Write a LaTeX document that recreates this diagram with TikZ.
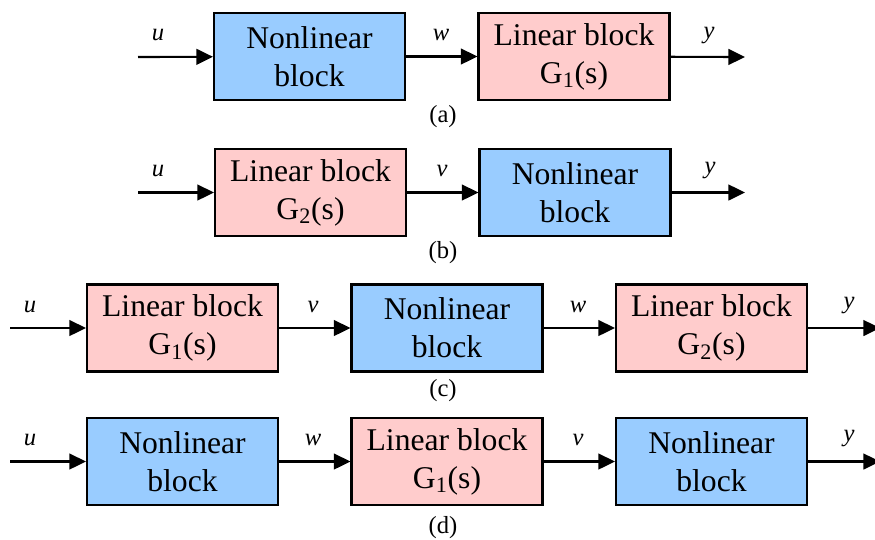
\documentclass[tikz,border=0pt]{standalone}
\usepackage{fontspec}
\setmainfont{Liberation Serif}
\usetikzlibrary{arrows.meta}
\definecolor{nlblue}{HTML}{99CCFF}
\definecolor{linpink}{HTML}{FFCCCC}
\tikzset{
	blk/.style={draw=black, line width=1.2pt, minimum width=3.82cm, minimum height=1.74cm, inner sep=0pt, align=center, font=\fontsize{18}{21.5}\selectfont},
	nlblk/.style={blk, fill=nlblue},
	linblk/.style={blk, fill=linpink},
	sig/.style={line width=1.2pt, -{Triangle[length=9.5pt,width=9pt]}},
	sigl/.style={font=\fontsize{14}{16}\selectfont\itshape},
	capt/.style={font=\fontsize{14}{16}\selectfont}
}
\begin{document}
\begin{tikzpicture}[x=0.02cm, y=-0.02cm]
		%%%%% START %%%%%
		\useasboundingbox (0, 0) rectangle (875, 539);
		
		% (a)
		\coordinate (ain) at (138, 57);
		\coordinate (aout) at (745, 57);
		\node[nlblk] (anl) at (309.5, 56.5) {Nonlinear\\block};
		\node[linblk] (alin) at (574, 56.5) {Linear block\\G\textsubscript{1}(s)};
		\draw[sig] (ain) -- (anl);
		\draw[sig] (anl) -- (alin);
		\draw[sig] (alin) -- (aout);
		\node[sigl] (au) at (158, 35) {u};
		\node[sigl] (aw) at (441, 35) {w};
		\node[sigl] (ay) at (709, 35) {y};
		\node[capt] (acap) at (443, 117) {(a)};
		
		% (b)
		\coordinate (bin) at (138, 192.5);
		\coordinate (bout) at (745, 192.5);
		\node[linblk] (blin) at (310.5, 192.5) {Linear block\\G\textsubscript{2}(s)};
		\node[nlblk] (bnl) at (575, 192.5) {Nonlinear\\block};
		\draw[sig] (bin) -- (blin);
		\draw[sig] (blin) -- (bnl);
		\draw[sig] (bnl) -- (bout);
		\node[sigl] (bu) at (158, 171) {u};
		\node[sigl] (bv) at (442, 171) {v};
		\node[sigl] (by) at (710, 170) {y};
		\node[capt] (bcap) at (443, 253) {(b)};
		
		% (c)
		\coordinate (cin) at (10, 328);
		\coordinate (cout) at (880, 328);
		\node[linblk] (clina) at (182.5, 328) {Linear block\\G\textsubscript{1}(s)};
		\node[nlblk] (cnl) at (447, 328) {Nonlinear\\block};
		\node[linblk] (clinb) at (711.5, 328) {Linear block\\G\textsubscript{2}(s)};
		\draw[sig] (cin) -- (clina);
		\draw[sig] (clina) -- (cnl);
		\draw[sig] (cnl) -- (clinb);
		\draw[sig] (clinb) -- (cout);
		\node[sigl] (cu) at (30, 307) {u};
		\node[sigl] (cv) at (313, 307) {v};
		\node[sigl] (cw) at (578, 307) {w};
		\node[sigl] (cy) at (849, 305) {y};
		\node[capt] (ccap) at (443, 391) {(c)};
		
		% (d)
		\coordinate (din) at (10, 461.5);
		\coordinate (dout) at (880, 461.5);
		\node[nlblk] (dnla) at (182.5, 461.5) {Nonlinear\\block};
		\node[linblk] (dlin) at (447, 461.5) {Linear block\\G\textsubscript{1}(s)};
		\node[nlblk] (dnlb) at (711.5, 461.5) {Nonlinear\\block};
		\draw[sig] (din) -- (dnla);
		\draw[sig] (dnla) -- (dlin);
		\draw[sig] (dlin) -- (dnlb);
		\draw[sig] (dnlb) -- (dout);
		\node[sigl] (du) at (30, 440) {u};
		\node[sigl] (dw) at (313, 440) {w};
		\node[sigl] (dv) at (578, 440) {v};
		\node[sigl] (dy) at (849, 438) {y};
		\node[capt] (dcap) at (443, 528) {(d)};
		%%%%% END %%%%%
	\end{tikzpicture}
\end{document}
